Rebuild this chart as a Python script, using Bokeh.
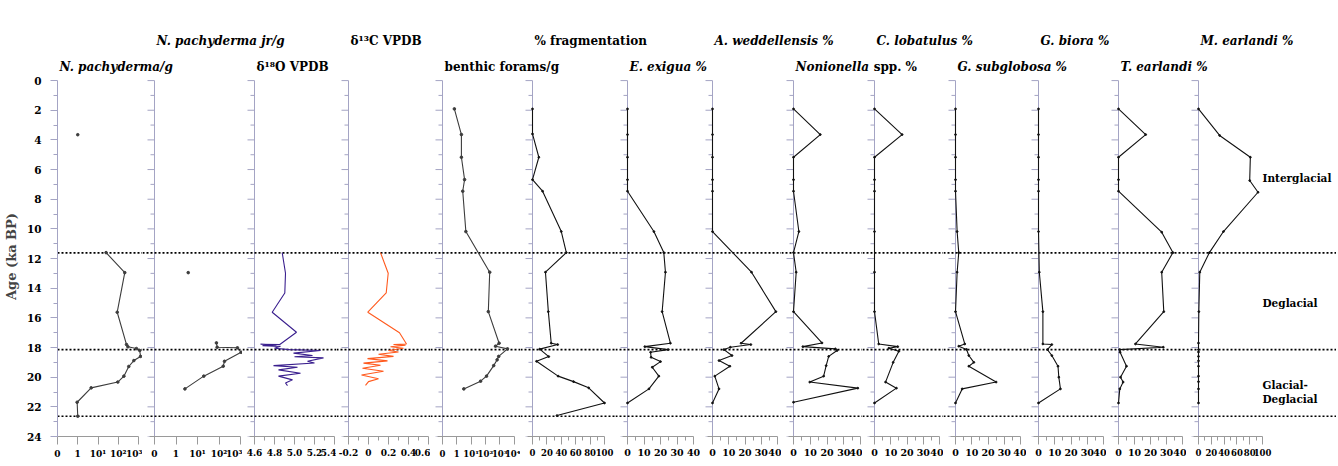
import numpy as np
from bokeh.plotting import figure
from bokeh.models import Range1d, FixedTicker
from bokeh.layouts import row, column
from bokeh.embed import file_html
from bokeh.resources import INLINE
from bokeh.core.properties import value

nan = float("nan")

# ---------------- data ----------------
boundary_ages = [11.62, 18.14, 22.63]
zone_names = ["Interglacial", "Deglacial", "Glacial-\nDeglacial"]
zone_label_ages = [6.55, 15.0, 21.0]

# each title: list of (text, italic?)
titles = [
    [("N. pachyderma/g", True)],
    [("N. pachyderma jr/g", True)],
    [("\u03b4\u00b9\u2078O VPDB", False)],
    [("\u03b4\u00b9\u00b3C VPDB", False)],
    [("benthic forams/g", False)],
    [("% fragmentation", False)],
    [("E. exigua %", True)],
    [("A. weddellensis %", True)],
    [("Nonionella", True), ("spp. %", False)],
    [("C. lobatulus %", True)],
    [("G. subglobosa %", True)],
    [("G. biora %", True)],
    [("T. earlandi %", True)],
    [("M. earlandi %", True)],
]

npach_age = [3.65, nan, 11.6, 12.95, 15.62, 17.8, 17.95, 18.07, 18.2, 18.6, 18.88, 19.28, 19.93, 20.33, 20.72, 21.69, 22.63]
npach_val = [1.0, nan, 25, 210, 89, 256, 300, 790, 1150, 1260, 590, 330, 190, 95, 4.6, 0.97, 1.0]

npachjr_age = [12.95, nan, 17.69, 17.98, 18.02, 18.32, 18.93, 19.26, 19.93, 20.79]
npachjr_val = [3.7, nan, 76, 82, 720, 1070, 180, 157, 19.6, 2.6]

d18o_age = [11.6, 12.99, 14.32, 15.62, 16.97, 17.8, 17.78, 17.83, 17.87, 17.92, 18.05, 18.14, 18.2, 18.38, 18.54, 18.62, 18.7, 18.93, 19.04, 19.22, 19.33, 19.51, 19.74, 19.93, 20.18, 20.39, 20.57]
d18o_val = [4.877, 4.91, 4.903, 4.777, 5.02, 4.853, 4.66, 4.82, 4.68, 4.86, 4.8, 4.95, 5.26, 4.99, 5.18, 5.0, 5.29, 5.13, 5.2, 4.79, 5.03, 4.84, 5.06, 4.84, 4.98, 4.91, 4.93]

d13c_age = [11.6, 12.99, 14.32, 15.62, 17.0, 17.76, 17.8, 17.85, 17.95, 18.05, 18.2, 18.3, 18.45, 18.6, 18.75, 18.9, 19.05, 19.2, 19.4, 19.6, 19.85, 20.1, 20.3, 20.55]
d13c_val = [0.12, 0.197, 0.177, -0.007, 0.31, 0.38, 0.25, 0.37, 0.22, 0.35, 0.2, 0.3, 0.1, 0.25, -0.01, 0.19, -0.05, 0.12, -0.06, 0.15, -0.07, 0.1, 0.0, -0.03]

benthic_age = [1.91, 3.64, 5.17, 6.68, 7.46, 10.18, 12.92, 15.58, 17.71, 17.91, 18.09, 18.6, 18.83, 19.22, 19.93, 20.27, 20.79]
benthic_val = [0.83, 2.1, 2.1, 3.5, 2.6, 4.3, 200, 160, 910, 510, 3500, 850, 660, 380, 120, 46, 3.1]

frag_age = [1.91, 3.6, 5.17, 6.68, 7.46, 10.18, 11.6, 12.92, 15.58, 17.71, 17.8, 18.11, 18.61, 18.93, 19.93, 20.3, 20.72, 21.74, 22.59]
frag_val = [0, 0, 8.8, 0, 14, 40, 47, 18, 22, 26, 35, 10, 22.6, 5.6, 35.6, 57, 78, 100, 34]

exigua_age = [1.91, 3.64, 5.17, 6.68, 7.46, 10.18, 11.6, 12.92, 15.58, 17.71, 17.94, 18.14, 18.32, 18.66, 18.95, 19.33, 19.93, 20.79, 21.74]
exigua_val = [0, 0, 0, 0, 0, 16, 22, 23, 21, 26, 10.5, 24.6, 14, 14.3, 20, 15, 19, 13, 0]

wedd_age = [1.91, 3.64, 5.17, 6.68, 7.46, 10.18, 12.92, 15.58, 17.71, 17.8, 17.98, 18.14, 18.54, 18.88, 19.26, 19.93, 20.79, 21.74]
wedd_val = [0, 0, 0, 0, 0, 0, 24, 39, 17.6, 23.6, 11, 7, 12, 4, 10.7, 1.4, 4, 0]

nonion_age = [1.91, 3.64, 5.17, 6.68, 7.46, 10.18, 11.6, 12.92, 15.58, 17.69, 17.94, 18.09, 18.2, 18.6, 19.22, 19.93, 20.33, 20.74, 21.69]
nonion_val = [0, 16, 0, 0, 0, 3.2, 0, 1.6, 0, 17, 5.6, 25, 26, 21, 19.5, 18, 9.7, 38.4, 0]

lobat_age = [1.91, 3.64, 5.17, 6.68, 7.46, 10.18, 12.92, 15.58, 17.76, 17.94, 18.05, 18.25, 19.0, 20.33, 20.74, 21.74]
lobat_val = [0, 17, 0, 0, 0, 0, 0, 0, 2.6, 14.3, 8.8, 15, 11.5, 6.8, 13.5, 0]

subglob_age = [1.91, 3.64, 5.17, 6.68, 7.46, 10.18, 11.6, 12.92, 15.58, 17.76, 17.91, 18.13, 18.54, 19.0, 19.26, 20.33, 20.79, 21.74]
subglob_val = [0, 0, 0, 0, 0, 1, 2, 1, 0, 5.7, 2, 6.8, 8.2, 11.3, 8.2, 25, 4.1, 0]

biora_age = [1.91, 3.64, 5.17, 6.68, 7.46, 10.18, 12.92, 15.58, 17.76, 17.8, 18.14, 18.54, 19.26, 20.0, 20.79, 21.74]
biora_val = [0, 0, 0, 0, 0, 0, 0.5, 2.7, 2.7, 8.2, 5.5, 8.2, 12, 12.5, 13.5, 0]

tearl_age = [1.91, 3.64, 5.17, 6.68, 7.46, 10.22, 11.6, 12.92, 15.58, 17.76, 17.98, 18.14, 18.32, 19.26, 20.0, 20.33, 20.79, 21.74]
tearl_val = [0, 17, 0, 0, 0, 27, 34, 27, 28.3, 10.6, 28, 0.8, 1, 5, 1.25, 2.9, 0.8, 0]

mearl_age = [1.91, 3.7, 5.17, 6.74, 7.53, 10.18, 11.6, 12.92, 15.58, 17.7, 18.14, 18.3, 18.6, 18.9, 19.26, 19.93, 20.3, 20.79, 21.74]
mearl_val = [0, 33, 81, 80, 93, 39, 17, 2, 0.5, 0, 0, 0, 0, 0, 0, 0, 0, 0, 0]

log_labels3 = ["0", "1", "10\u00b9", "10\u00b2", "10\u00b3"]
log_labels4 = ["0", "1", "10\u00b9", "10\u00b2", "10\u00b3", "10\u2074"]
d18o_ticks = [4.6, 4.8, 5.0, 5.2, 5.4]
d18o_labels = ["4.6", "4.8", "5.0", "5.2", "5.4"]
d13c_ticks = [-0.2, 0.0, 0.2, 0.4, 0.6]
d13c_labels = ["-0.2", "0", "0.2", "0.4", "0.6"]
pct40_ticks = [0, 10, 20, 30, 40]
pct100_ticks = [0, 20, 40, 60, 80, 100]

# ---------------- style / layout ----------------
FONT = "DejaVu Serif"
AXC = "#a4a4c4"
XAC = "#9a9a9a"
PXK = 14.83
FRAME_H = 360
BOT = 28
TOP_Y = 76
RIGHT = 1336
TFS = 12

def pseudo_log(v):
    out = []
    for x in v:
        if x != x:
            out.append(nan)
        elif x < 1:
            out.append(x)
        else:
            out.append(np.log10(x) + 1)
    return out

P40 = dict(dmin=0, dmax=40, major=pct40_ticks, labels=None, minor=[5, 15, 25, 35], color="#111111", msize=1.8, fs="9.5px")
P100 = dict(dmin=0, dmax=100, major=pct100_ticks, labels=None, minor=[10, 30, 50, 70, 90], color="#111111", msize=1.8, fs="8.5px")
panels = [
    dict(age=npach_age, val=pseudo_log(npach_val), dmin=0, dmax=4, major=[0, 1, 2, 3, 4], labels=log_labels3,
         minor=[], color="#3c3c3c", msize=2.6, fs="9px"),
    dict(age=npachjr_age, val=pseudo_log(npachjr_val), dmin=0, dmax=4, major=[0, 1, 2, 3, 4], labels=log_labels3,
         minor=[], color="#3c3c3c", msize=2.6, fs="9px"),
    dict(age=d18o_age, val=d18o_val, dmin=4.6, dmax=5.4, major=d18o_ticks, labels=d18o_labels,
         minor=[4.7, 4.9, 5.1, 5.3], color="#3a1f8e", msize=0, fs="9px"),
    dict(age=d13c_age, val=d13c_val, dmin=-0.2, dmax=0.6, major=d13c_ticks, labels=d13c_labels,
         minor=[-0.1, 0.1, 0.3, 0.5], color="#ff5a1e", msize=0, fs="9px"),
    dict(age=benthic_age, val=pseudo_log(benthic_val), dmin=0, dmax=5, major=[0, 1, 2, 3, 4, 5], labels=log_labels4,
         minor=[], color="#3c3c3c", msize=2.6, fs="8.5px"),
    dict(P100, age=frag_age, val=frag_val),
    dict(P40, age=exigua_age, val=exigua_val),
    dict(P40, age=wedd_age, val=wedd_val),
    dict(P40, age=nonion_age, val=nonion_val),
    dict(P40, age=lobat_age, val=lobat_val),
    dict(P40, age=subglob_age, val=subglob_val),
    dict(P40, age=biora_age, val=biora_val),
    dict(P40, age=tearl_age, val=tearl_val),
    dict(P100, age=mearl_age, val=mearl_val),
]

# panel geometry in page pixels
V = [57, 154, 254, 348, 442, 532, 627, 712, 793, 874, 955, 1038, 1118, 1198]
SPAN = [81, 86, 80, 80, 71.5, 72, 66, 65, 67, 65, 65, 65, 64, 64]
FL = [57] + [v - 12 for v in V[1:]]
FR = FL[1:] + [RIGHT]
TIER_Y = [66, 40]          # title baselines, alternating tiers

major_ages = list(range(0, 25, 2))
minor_ages = list(range(1, 24, 2))

figs = []
for i, pn in enumerate(panels):
    k = (pn["dmax"] - pn["dmin"]) / SPAN[i]
    xr = Range1d(pn["dmin"] - (V[i] - FL[i]) * k, pn["dmin"] + (FR[i] - V[i]) * k)
    yr = Range1d(24, 24 - FRAME_H / PXK)
    left_b = 57 if i == 0 else 0
    p = figure(width=FR[i] - FL[i] + left_b, height=FRAME_H + BOT, x_range=xr, y_range=yr,
               output_backend="svg", toolbar_location=None,
               y_axis_location="left" if i == 0 else None,
               min_border_left=left_b, min_border_right=0,
               min_border_top=0, min_border_bottom=BOT)
    p.outline_line_color = None
    p.grid.visible = False

    ax = p.xaxis[0]
    ax.ticker = FixedTicker(ticks=pn["major"], minor_ticks=pn["minor"])
    if pn["labels"] is not None:
        ax.major_label_overrides = {t: l for t, l in zip(pn["major"], pn["labels"])}
    ax.bounds = (pn["dmin"] - 5 * k, pn["dmax"])
    ax.axis_line_color = XAC
    ax.major_tick_line_color = XAC
    ax.minor_tick_line_color = XAC
    ax.major_tick_out = 8
    ax.major_tick_in = 0
    ax.minor_tick_out = 4
    ax.minor_tick_in = 0
    ax.major_label_standoff = 4
    ax.major_label_text_font = FONT
    ax.major_label_text_font_style = "bold"
    ax.major_label_text_font_size = pn["fs"]
    ax.major_label_text_color = "black"

    if i == 0:
        ya = p.yaxis[0]
        ya.ticker = FixedTicker(ticks=major_ages, minor_ticks=minor_ages)
        ya.bounds = (0, 24)
        ya.axis_line_color = AXC
        ya.major_tick_line_color = AXC
        ya.minor_tick_line_color = AXC
        ya.major_tick_out = 7
        ya.major_tick_in = 0
        ya.minor_tick_out = 4
        ya.minor_tick_in = 0
        ya.major_label_standoff = 9
        ya.major_label_text_font = FONT
        ya.major_label_text_font_style = "bold"
        ya.major_label_text_font_size = "10.5px"
        ya.major_label_text_color = "black"
        ya.axis_label = "Age (ka BP)"
        ya.axis_label_text_font = FONT
        ya.axis_label_text_font_style = "bold"
        ya.axis_label_text_font_size = "13px"
        ya.axis_label_standoff = 5
    else:
        p.segment(x0=[pn["dmin"]], y0=[0], x1=[pn["dmin"]], y1=[24], line_color=AXC, line_width=1)
        p.ray(x=[pn["dmin"]] * len(major_ages), y=major_ages, length=7, length_units="screen",
              angle=np.pi, line_color=AXC, line_width=1)
        p.ray(x=[pn["dmin"]] * len(minor_ages), y=minor_ages, length=4, length_units="screen",
              angle=np.pi, line_color=AXC, line_width=1)

    for b in boundary_ages:
        p.line(x=[xr.start, xr.end], y=[b, b], line_color="black", line_width=1.6, line_dash="2 2")

    p.line(x=pn["val"], y=pn["age"], line_color=pn["color"], line_width=1.1)
    if pn["msize"] > 0:
        p.scatter(x=pn["val"], y=pn["age"], size=pn["msize"], color=pn["color"])

    if i == len(panels) - 1:
        p.text(x=[pn["dmax"]] * len(zone_names), y=zone_label_ages, text=zone_names,
               text_font=value(FONT), text_font_style="bold", text_font_size="10.5px",
               text_align="left", text_baseline="middle", text_line_height=1.15, text_color="black")
    figs.append(p)

# column titles: horizontal, two alternating tiers so that they do not collide
tf = figure(width=RIGHT, height=TOP_Y, x_range=Range1d(0, RIGHT), y_range=Range1d(-TOP_Y, 0),
            output_backend="svg", toolbar_location=None, x_axis_location=None, y_axis_location=None,
            min_border=0)
tf.outline_line_color = None
tf.grid.visible = False
for i, parts in enumerate(titles):
    x0 = V[i] + 2
    y0 = -TIER_Y[i % 2]
    dx = 0.0
    for txt, it in parts:
        tf.text(x=[x0 + dx], y=[y0], text=[txt], text_font=value(FONT),
                text_font_style="bold italic" if it else "bold", text_font_size="%dpx" % TFS,
                text_align="left", text_baseline="alphabetic", text_color="black")
        dx += 0.61 * TFS * len(txt) + 5

layout = column(tf, row(*figs))
open("out.html", "w").write(file_html(layout, INLINE))
